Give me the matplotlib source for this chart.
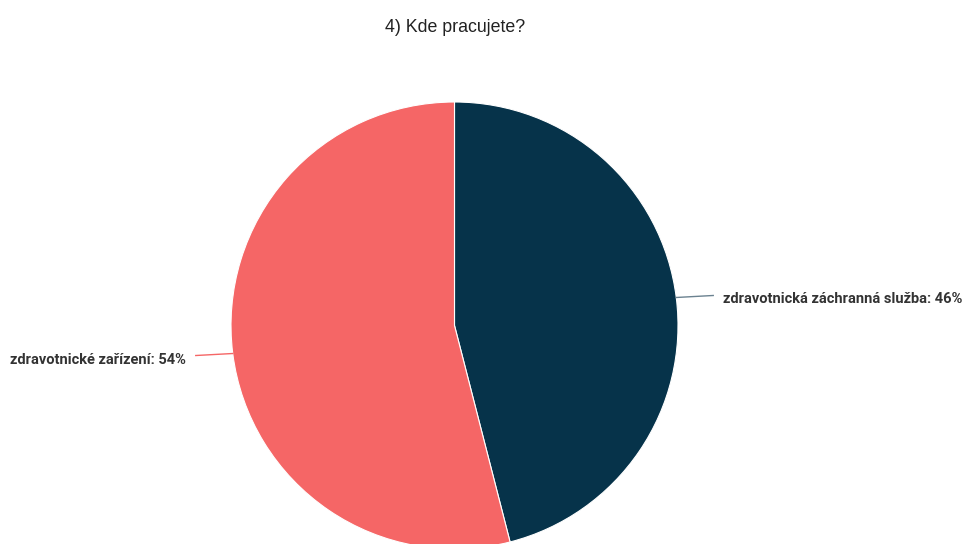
import matplotlib
matplotlib.use("Agg")
import matplotlib.pyplot as plt
import numpy as np

labels = ["zdravotnická záchranná služba", "zdravotnické zařízení"]
shares = [46, 54]
colors = ["#06334a", "#f56666"]
line_colors = ["#6b8290", "#f56666"]

W, H = 964, 544
fig = plt.figure(figsize=(W / 100, H / 100), dpi=100)
ax = fig.add_axes([0, 0, 1, 1])
ax.set_xlim(0, W)
ax.set_ylim(0, H)
ax.set_aspect("equal")
ax.axis("off")

cx, cy, r = 454.5, H - 325.5, 223.5
wedges, _ = ax.pie(shares, colors=colors, startangle=90, counterclock=False,
                   center=(cx, cy), radius=r,
                   wedgeprops=dict(edgecolor="white", linewidth=0.8))
ax.set_xlim(0, W)
ax.set_ylim(0, H)

# leader lines and labels at each wedge's mid angle
for w, lab, val, lc in zip(wedges, labels, shares, line_colors):
    mid = np.deg2rad((w.theta1 + w.theta2) / 2)
    x0, y0 = cx + r * np.cos(mid), cy + r * np.sin(mid)
    side = 1 if np.cos(mid) > 0 else -1
    x1 = x0 + side * 37
    y1 = y0 + 2 * np.sign(np.sin(mid))
    ax.plot([x0, x1], [y0, y1], color=lc, lw=1)
    ax.text(x1 + side * 10, y1 - 4, f"{lab}: {val}%",
            ha="left" if side > 0 else "right", va="center",
            fontsize=10.5, fontweight="bold", family="Roboto", color="#333333")

ax.text(W / 2 - 27, H - 27, "4) Kde pracujete?", ha="center", va="center",
        fontsize=12.8, family="Liberation Sans", color="#222222")

fig.savefig("out.png", dpi=100)
